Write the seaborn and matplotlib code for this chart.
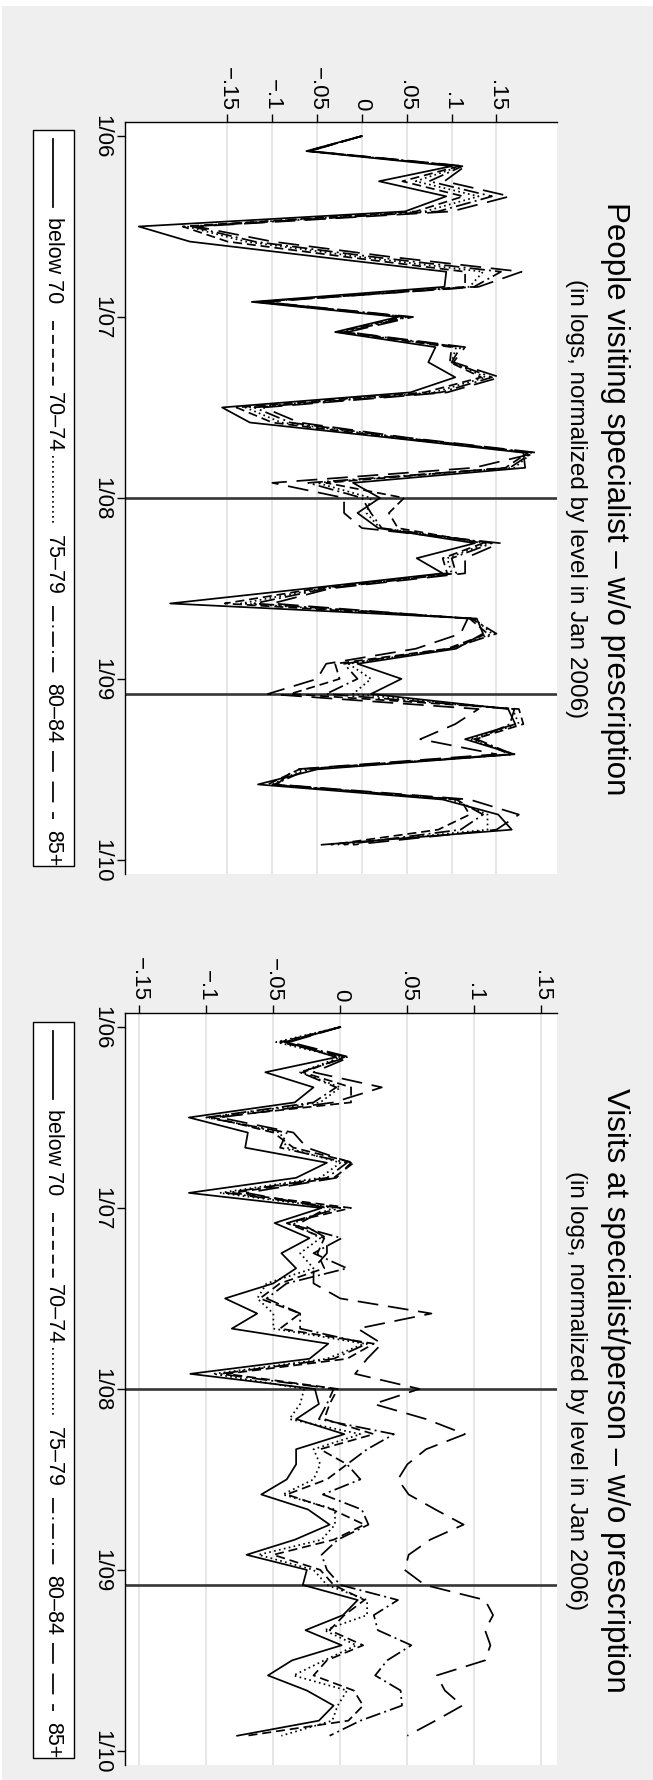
import numpy as np
import pandas as pd
import matplotlib
matplotlib.use("Agg")
import matplotlib.pyplot as plt
import seaborn as sns
from matplotlib.lines import Line2D
from matplotlib.patches import Rectangle

# ---------------- data ----------------
months = pd.period_range("2006-01", "2009-12", freq="M")
groups = ["below 70", "70–74", "75–79", "80–84", "85+"]

# Panel 1: People visiting specialist – w/o prescription
people_below70 = [0, -0.062, 0.100, 0.019, 0.094, 0.048, -0.249, -0.192, -0.050, 0.094, 0.092, -0.123,
                  0.040, -0.030, 0.082, 0.074, 0.104, 0.054, -0.156, -0.125, 0.030, 0.180, 0.182, -0.010,
                  0.020, -0.005, 0.018, 0.126, 0.061, 0.090, -0.060, -0.214, 0.128, 0.135, 0.105, -0.005,
                  0.044, 0.010, 0.163, 0.171, 0.115, 0.170, -0.050, -0.116, 0.090, 0.152, 0.167, -0.045]
people_70_74 = [0, -0.061, 0.108, 0.045, 0.113, 0.060, -0.200, -0.150, -0.020, 0.115, 0.115, -0.118,
                0.045, -0.027, 0.100, 0.098, 0.133, 0.070, -0.140, -0.100, 0.035, 0.185, 0.160, -0.040,
                0.047, 0.030, 0.040, 0.135, 0.090, 0.095, -0.050, -0.153, 0.120, 0.140, 0.095, -0.030,
                -0.025, -0.080, 0.175, 0.180, 0.125, 0.165, -0.070, -0.105, 0.110, 0.120, 0.085, -0.035]
people_75_79 = [0, -0.060, 0.110, 0.060, 0.130, 0.070, -0.195, -0.130, -0.005, 0.135, 0.120, -0.115,
                0.050, -0.024, 0.105, 0.100, 0.138, 0.080, -0.130, -0.090, 0.040, 0.190, 0.170, -0.050,
                0.010, 0.005, 0.020, 0.140, 0.095, 0.100, -0.045, -0.135, 0.125, 0.145, 0.100, -0.015,
                0.010, -0.010, 0.168, 0.175, 0.120, 0.170, -0.065, -0.100, 0.100, 0.140, 0.140, -0.030]
people_80_84 = [0, -0.059, 0.112, 0.075, 0.145, 0.085, -0.190, -0.120, 0.010, 0.155, 0.125, -0.112,
                0.052, -0.020, 0.110, 0.100, 0.145, 0.088, -0.120, -0.080, 0.045, 0.190, 0.165, -0.060,
                0.000, 0.010, 0.022, 0.145, 0.100, 0.105, -0.040, -0.120, 0.122, 0.150, 0.098, -0.020,
                -0.005, -0.040, 0.170, 0.165, 0.128, 0.168, -0.060, -0.098, 0.105, 0.135, 0.110, -0.020]
people_85plus = [0, -0.058, 0.115, 0.092, 0.165, 0.100, -0.185, -0.100, 0.030, 0.178, 0.130, -0.110,
                 0.057, -0.016, 0.115, 0.102, 0.154, 0.095, -0.110, -0.070, 0.050, 0.195, 0.125, -0.100,
                 -0.020, -0.020, 0.000, 0.154, 0.115, 0.115, -0.035, -0.100, 0.118, 0.110, 0.060, -0.040,
                 -0.050, -0.105, 0.130, 0.104, 0.065, 0.150, -0.075, -0.095, 0.120, 0.175, 0.150, -0.010]

# Panel 2: Visits at specialist/person – w/o prescription
visits_below70 = [0, -0.040, -0.003, -0.056, -0.020, -0.034, -0.113, -0.069, -0.071, -0.010, -0.033, -0.113,
                  -0.014, -0.049, -0.023, -0.044, -0.033, -0.050, -0.086, -0.062, -0.081, -0.009, -0.023, -0.112,
                  -0.019, -0.016, -0.033, 0.003, -0.033, -0.033, -0.040, -0.059, -0.024, -0.008, -0.034, -0.070,
                  -0.025, -0.028, 0.013, 0.002, -0.026, 0.001, -0.036, -0.054, -0.025, -0.005, -0.016, -0.077]
visits_70_74 = [0, -0.045, 0.003, -0.028, 0.008, 0.008, -0.095, -0.050, -0.035, 0.010, -0.005, -0.080,
                0.008, -0.040, -0.012, -0.017, -0.012, -0.045, -0.060, -0.030, -0.045, 0.025, 0.005, -0.085,
                -0.002, -0.008, -0.012, 0.025, -0.015, 0.005, -0.010, -0.040, -0.006, 0.018, -0.005, -0.050,
                -0.015, -0.005, 0.018, 0.003, -0.008, 0.017, -0.010, -0.020, 0.010, 0.017, 0.006, -0.070]
visits_75_79 = [0, -0.048, 0.000, -0.030, 0.000, -0.015, -0.098, -0.045, -0.040, 0.000, -0.015, -0.090,
                -0.005, -0.035, -0.015, -0.030, -0.020, -0.055, -0.062, -0.050, -0.050, 0.018, -0.010, -0.095,
                -0.027, -0.030, -0.038, 0.015, -0.020, -0.015, -0.020, -0.043, -0.004, -0.004, -0.014, -0.061,
                -0.020, -0.010, 0.020, 0.020, -0.012, 0.012, -0.012, -0.035, 0.005, -0.002, -0.006, -0.044]
visits_80_84 = [0, -0.042, 0.005, -0.030, -0.003, -0.020, -0.100, -0.040, -0.045, 0.005, -0.010, -0.085,
                0.000, -0.040, 0.001, -0.020, 0.005, -0.040, -0.055, -0.030, -0.030, 0.020, -0.005, -0.090,
                -0.005, -0.010, -0.016, 0.040, 0.020, 0.005, 0.015, -0.013, 0.016, 0.021, -0.002, -0.014,
                -0.010, 0.000, 0.043, 0.025, 0.028, 0.053, 0.035, 0.026, 0.045, 0.046, 0.015, -0.008]
visits_85plus = [0, -0.038, 0.007, -0.020, 0.031, -0.005, -0.090, -0.035, -0.025, 0.008, -0.003, -0.070,
                 -0.010, -0.030, -0.010, -0.010, -0.020, -0.020, 0.000, 0.068, 0.013, 0.031, 0.020, 0.011,
                 0.059, 0.025, 0.064, 0.093, 0.064, 0.050, 0.043, 0.051, 0.071, 0.092, 0.067, 0.051,
                 0.048, 0.063, 0.108, 0.114, 0.108, 0.112, 0.108, 0.072, 0.078, 0.091, 0.071, 0.050]

titles = ["People visiting specialist – w/o prescription",
          "Visits at specialist/person – w/o prescription"]
subtitle = "(in logs, normalized by level in Jan 2006)"
time_tick_labels = ["1/06", "1/07", "1/08", "1/09", "1/10"]
value_ticks = [-0.15, -0.1, -0.05, 0, 0.05, 0.1, 0.15]
value_tick_labels = ["\u2212.15", "\u2212.1", "\u2212.05", "0", ".05", ".1", ".15"]
ref_months = [pd.Period("2008-01", "M"), pd.Period("2009-02", "M")]

panels = [
    [people_below70, people_70_74, people_75_79, people_80_84, people_85plus],
    [visits_below70, visits_70_74, visits_75_79, visits_80_84, visits_85plus],
]

# ---------------- style ----------------
plt.rcParams["font.family"] = ["Liberation Sans", "DejaVu Sans"]
plt.rcParams["lines.scale_dashes"] = False
plt.rcParams["axes.unicode_minus"] = True

dash_map = {"below 70": "", "70–74": (6.5, 3.5), "75–79": (1.2, 2.4),
            "80–84": (11, 3, 1.4, 3), "85+": (15, 7)}
palette = {g: "black" for g in groups}

W, H = 653, 1781
DPI = 100
def fx(x):
    return x / W
def fy(y):
    return 1 - y / H

fig = plt.figure(figsize=(W / DPI, H / DPI), dpi=DPI, facecolor="white")
fig.patches.append(Rectangle((fx(2), 0), 1 - fx(2), fy(7), transform=fig.transFigure,
                             facecolor="#efefef", edgecolor="none", zorder=-10))

t0 = months[0]
month_pos = [(m - t0).n for m in months]
time_tick_pos = [12 * k for k in range(len(time_tick_labels))]

xlims = [(-0.2643, 0.2175), (-0.1607, 0.1617)]
panel_top = [123, 1014]
offsets = [0, 891.7]

for p in range(2):
    top = panel_top[p]
    ax = fig.add_axes([fx(125), fy(top + 752), 432 / W, 752 / H])
    ax.set_facecolor("white")
    rows = []
    for g, vals in zip(groups, panels[p]):
        for t, v in zip(month_pos, vals):
            rows.append((t, v, g))
    df = pd.DataFrame(rows, columns=["t", "value", "group"])

    for v in value_ticks:
        ax.axvline(v, color="#e4e4e4", lw=1.3, zorder=0)
    for m in ref_months:
        ax.axhline((m - t0).n, color="#353535", lw=1.9, zorder=1)

    sns.lineplot(data=df, x="value", y="t", hue="group", style="group",
                 hue_order=groups, style_order=groups, palette=palette,
                 dashes=dash_map, orient="y", estimator=None, sort=True,
                 legend=False, linewidth=1.25, ax=ax, zorder=3)

    ax.set_xlim(*xlims[p])
    ax.set_ylim(48.94, -0.93)
    ax.xaxis.tick_top()
    ax.set_xticks(value_ticks)
    ax.set_xticklabels(value_tick_labels)
    ax.set_yticks(time_tick_pos)
    ax.set_yticklabels(time_tick_labels)
    ax.tick_params(axis="x", labelrotation=-90, labelsize=16, length=6, width=1,
                   direction="out", pad=3, colors="black")
    ax.tick_params(axis="y", labelrotation=-90, labelsize=16, length=6, width=1,
                   direction="out", pad=3, colors="black")
    for lab in ax.get_yticklabels():
        lab.set_va("center")
    ax.set_xlabel("")
    ax.set_ylabel("")
    for s in ["right", "bottom"]:
        ax.spines[s].set_visible(False)
    for s in ["top", "left"]:
        ax.spines[s].set_color("black")
        ax.spines[s].set_linewidth(1.0)

    dy = offsets[p]
    cy = 499 + dy
    fig.text(fx(615), fy(cy), titles[p], rotation=-90, ha="center", va="center",
             fontsize=22.5, color="black")
    fig.text(fx(576), fy(cy), subtitle, rotation=-90, ha="center", va="center",
             fontsize=17.5, color="black")

    # legend (rotated layout)
    fig.patches.append(Rectangle((fx(32.6), fy(867 + dy)), (74.4 - 32.6) / W, (867 - 131) / H,
                                 transform=fig.transFigure, facecolor="white",
                                 edgecolor="black", lw=1.0, zorder=2))
    sample_start = [140, 322, 457, 607, 752]
    text_start = [217, 392, 535, 683, 830]
    for g, s0, t_0 in zip(groups, sample_start, text_start):
        ln = Line2D([fx(53), fx(53)], [fy(s0 + dy), fy(s0 + 68 + dy)],
                    transform=fig.transFigure, color="black", lw=1.25, zorder=3)
        ln.set_dashes(dash_map[g])
        fig.lines.append(ln)
        fig.text(fx(53), fy(t_0 + dy), g, rotation=-90, ha="center", va="top",
                 fontsize=15.5, color="black", zorder=3)

fig.savefig("out.png", dpi=DPI, facecolor="white")
